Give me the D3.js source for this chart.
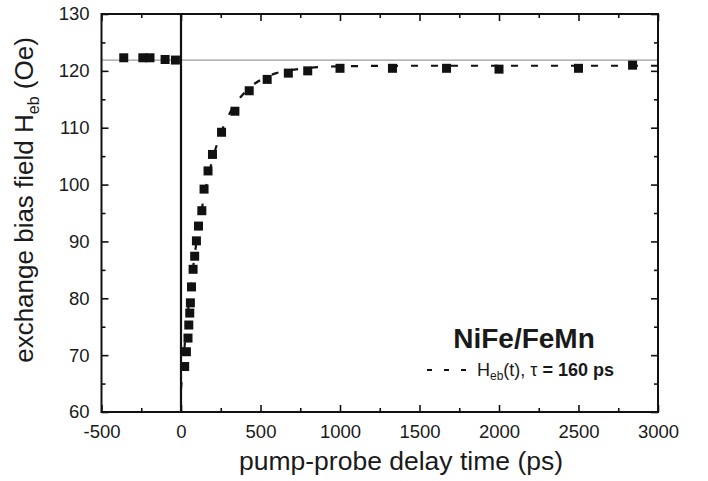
<!DOCTYPE html>
<html>
<head>
<meta charset="utf-8">
<script src="https://cdn.jsdelivr.net/npm/d3@7"></script>
<style>
  html, body { margin: 0; padding: 0; background: #fff; }
  svg text { font-family: "Liberation Sans", Arial, Helvetica, sans-serif; fill: #1a1a1a; }
</style>
</head>
<body>
<div id="chart"></div>
<script>
// Exchange bias recovery after pump pulse (NiFe/FeMn)

// measured points (delay in ps, field in Oe)
const delayPs = [-360, -240, -195, -100, -35,
    23, 34, 44, 49, 55, 59, 66, 76, 86, 97, 110, 131, 145, 170, 198,
    255, 339, 429, 542, 675, 797, 1000, 1330, 1670, 2000, 2500, 2840];
const fieldOe = [122.3, 122.3, 122.3, 122.0, 121.9,
    68.0, 70.6, 73.0, 75.3, 77.4, 79.2, 82.0, 85.1, 87.4, 90.1, 92.7, 95.4, 99.2, 102.4, 105.3,
    109.2, 112.9, 116.5, 118.5, 119.6, 120.0, 120.45, 120.45, 120.45, 120.3, 120.45, 121.0];

// dashed fit curve H_eb(t)
const fitT = [0, 25, 50, 75, 100, 150, 200, 250, 300, 400, 500, 600, 800, 1000, 1500, 2000, 2500, 3000];
const fitH = [64.0, 72.3, 79.2, 85.2, 90.4, 98.6, 104.6, 109.0, 112.2, 116.2, 118.4, 119.6, 120.5, 120.8, 120.9, 120.9, 120.9, 120.9];

// reference level before pump
const baseline = 121.9;

const xTicks = [-500, 0, 500, 1000, 1500, 2000, 2500, 3000];
const xMinor = [-250, 250, 750, 1250, 1750, 2250, 2750];
const yTicks = [60, 70, 80, 90, 100, 110, 120, 130];
const yMinor = [65, 75, 85, 95, 105, 115, 125];

const W = 708, H = 481;
const plotL = 101.5, plotR = 658, plotT = 14, plotB = 412;

const svg = d3.select('#chart').append('svg')
    .attr('width', W)
    .attr('height', H);

// the source figure is cropped a bit before the right edge
svg.append('clipPath').attr('id', 'pageclip')
    .append('rect').attr('x', 0).attr('y', 0).attr('width', 680).attr('height', H);

const root = svg.append('g').attr('clip-path', 'url(#pageclip)');

const x = d3.scaleLinear().domain([-500, 3000]).range([plotL, plotR]);
const y = d3.scaleLinear().domain([60, 130]).range([plotB, plotT]);

// ticks (inward) on all four sides
function styleAxis(g) {
    g.select('.domain').remove();
    g.selectAll('.tick line').attr('stroke', '#111').attr('stroke-width', 1.6);
    g.selectAll('.tick text').attr('font-size', '18.5px').attr('fill', '#1a1a1a')
        .attr('font-family', '"Liberation Sans", Arial, sans-serif');
}

const plain = d => String(d);

root.append('g').attr('transform', `translate(0,${plotB})`)
    .call(d3.axisBottom(x).tickValues(xTicks).tickSize(-7).tickPadding(13).tickFormat(plain))
    .call(styleAxis);
root.append('g').attr('transform', `translate(0,${plotB})`)
    .call(d3.axisBottom(x).tickValues(xMinor).tickSize(-4).tickFormat(''))
    .call(styleAxis);
root.append('g').attr('transform', `translate(0,${plotT})`)
    .call(d3.axisTop(x).tickValues(xTicks).tickSize(-7).tickFormat(''))
    .call(styleAxis);
root.append('g').attr('transform', `translate(0,${plotT})`)
    .call(d3.axisTop(x).tickValues(xMinor).tickSize(-4).tickFormat(''))
    .call(styleAxis);

root.append('g').attr('transform', `translate(${plotL},0)`)
    .call(d3.axisLeft(y).tickValues(yTicks).tickSize(-7).tickPadding(12).tickFormat(plain))
    .call(styleAxis);
root.append('g').attr('transform', `translate(${plotL},0)`)
    .call(d3.axisLeft(y).tickValues(yMinor).tickSize(-4).tickFormat(''))
    .call(styleAxis);
root.append('g').attr('transform', `translate(${plotR},0)`)
    .call(d3.axisRight(y).tickValues(yTicks).tickSize(-7).tickFormat(''))
    .call(styleAxis);
root.append('g').attr('transform', `translate(${plotR},0)`)
    .call(d3.axisRight(y).tickValues(yMinor).tickSize(-4).tickFormat(''))
    .call(styleAxis);

// baseline level (thin gray) and t = 0 marker
root.append('line')
    .attr('x1', plotL).attr('x2', plotR)
    .attr('y1', y(baseline)).attr('y2', y(baseline))
    .attr('stroke', '#9a9a9a').attr('stroke-width', 1.2);

root.append('line')
    .attr('x1', x(0)).attr('x2', x(0))
    .attr('y1', plotT).attr('y2', plotB)
    .attr('stroke', '#111').attr('stroke-width', 2.2);

// fit curve
const fitLine = d3.line()
    .x((d, i) => x(fitT[i]))
    .y(d => y(d))
    .curve(d3.curveMonotoneX);

root.append('path')
    .datum(fitH)
    .attr('d', fitLine)
    .attr('fill', 'none')
    .attr('stroke', '#111')
    .attr('stroke-width', 2.2)
    .attr('stroke-dasharray', '7,13');

// data squares
const sq = 9;
root.append('g')
    .selectAll('rect')
    .data(delayPs.map((t, i) => ({ t, h: fieldOe[i] })))
    .join('rect')
    .attr('x', d => x(d.t) - sq / 2)
    .attr('y', d => y(d.h) - sq / 2)
    .attr('width', sq)
    .attr('height', sq)
    .attr('fill', '#111');

// frame
root.append('rect')
    .attr('x', plotL).attr('y', plotT)
    .attr('width', plotR - plotL).attr('height', plotB - plotT)
    .attr('fill', 'none')
    .attr('stroke', '#111')
    .attr('stroke-width', 2);

// axis titles
root.append('text')
    .attr('x', 401).attr('y', 470)
    .attr('text-anchor', 'middle')
    .attr('font-size', '26.5px')
    .text('pump-probe delay time (ps)');

const yTitle = root.append('text')
    .attr('transform', 'translate(33,200) rotate(-90)')
    .attr('text-anchor', 'middle')
    .attr('font-size', '26px');
yTitle.append('tspan').text('exchange bias field H');
yTitle.append('tspan').attr('font-size', '16px').attr('dy', 6).text('eb');
yTitle.append('tspan').attr('dy', -6).text(' (Oe)');

// legend
root.append('text')
    .attr('x', 524).attr('y', 348)
    .attr('text-anchor', 'middle')
    .attr('font-size', '28px')
    .attr('font-weight', 'bold')
    .text('NiFe/FeMn');

root.append('line')
    .attr('x1', 427).attr('x2', 470)
    .attr('y1', 370).attr('y2', 370)
    .attr('stroke', '#111')
    .attr('stroke-width', 2.2)
    .attr('stroke-dasharray', '5,12');

const leg = root.append('text')
    .attr('x', 477).attr('y', 376)
    .attr('font-size', '18px');
leg.append('tspan').text('H');
leg.append('tspan').attr('font-size', '12px').attr('dy', 4).text('eb');
leg.append('tspan').attr('dy', -4).text('(t), τ ');
leg.append('tspan').attr('font-weight', 'bold').text('= 160 ps');
</script>
</body>
</html>
